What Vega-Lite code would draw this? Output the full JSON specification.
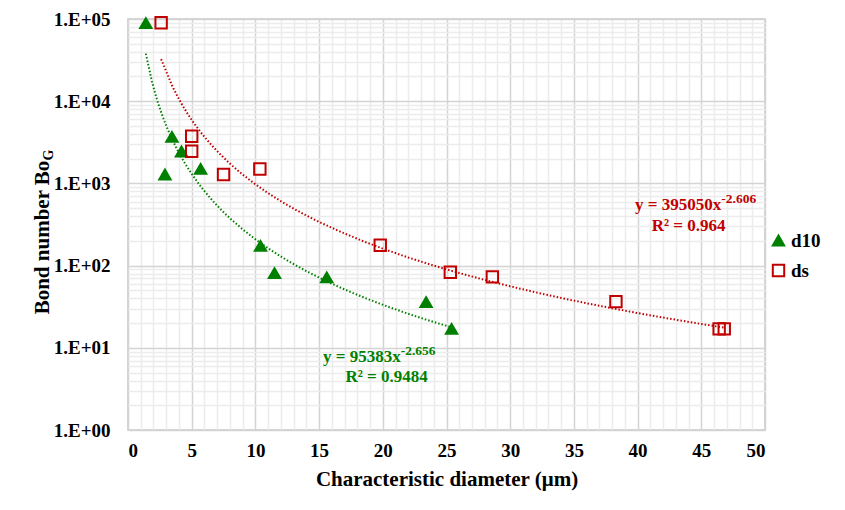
{
  "$schema": "https://vega.github.io/schema/vega-lite/v6.json",
  "width": 637,
  "height": 411,
  "autosize": {"type": "none"},
  "padding": {"left": 128, "top": 19, "right": 80, "bottom": 80},
  "background": "white",
  "datasets": {
    "pts": [
      {"series": "d10", "x": 1.4, "y": 89000},
      {"series": "d10", "x": 2.9, "y": 1285},
      {"series": "d10", "x": 3.45, "y": 3680},
      {"series": "d10", "x": 4.2, "y": 2440},
      {"series": "d10", "x": 5.7, "y": 1500},
      {"series": "d10", "x": 10.4, "y": 174},
      {"series": "d10", "x": 11.5, "y": 81},
      {"series": "d10", "x": 15.6, "y": 72},
      {"series": "d10", "x": 23.4, "y": 36},
      {"series": "d10", "x": 25.4, "y": 17},
      {"series": "ds", "x": 2.6, "y": 90000},
      {"series": "ds", "x": 5.0, "y": 3740},
      {"series": "ds", "x": 5.0, "y": 2460},
      {"series": "ds", "x": 7.5, "y": 1285},
      {"series": "ds", "x": 10.35, "y": 1500},
      {"series": "ds", "x": 19.8, "y": 177},
      {"series": "ds", "x": 25.3, "y": 83},
      {"series": "ds", "x": 28.6, "y": 73},
      {"series": "ds", "x": 38.3, "y": 36.5},
      {"series": "ds", "x": 46.4, "y": 17},
      {"series": "ds", "x": 46.8, "y": 17}
    ],
    "eqs": [
      {"series": "d10", "x": 21.4, "y": 7.8, "main": "y = 95383x", "sup": "-2.656"},
      {"series": "ds", "x": 46.57, "y": 546, "main": "y = 395050x", "sup": "-2.606"}
    ],
    "r2": [
      {"series": "d10", "x": 20.3, "y": 4.45, "t": "R² = 0.9484"},
      {"series": "ds", "x": 44.0, "y": 306, "t": "R² = 0.964"}
    ]
  },
  "resolve": {"axis": {"x": "independent", "y": "independent"}},
  "layer": [
    {
      "data": {"name": "pts"},
      "mark": {"type": "point", "opacity": 0},
      "encoding": {
        "x": {
          "field": "x", "type": "quantitative",
          "scale": {"domain": [0, 50], "nice": false},
          "axis": {
            "orient": "bottom", "grid": true, "gridColor": "#ececec", "gridWidth": 1.5,
            "values": [1,2,3,4,6,7,8,9,11,12,13,14,16,17,18,19,21,22,23,24,26,27,28,29,31,32,33,34,36,37,38,39,41,42,43,44,46,47,48,49],
            "labels": false, "ticks": false, "domain": false, "title": null
          }
        },
        "y": {
          "field": "y", "type": "quantitative",
          "scale": {"type": "log", "domain": [1, 100000], "nice": false},
          "axis": {
            "orient": "left", "grid": true, "gridColor": "#ececec", "gridWidth": 1.5,
            "values": [2,3,4,5,6,7,8,9,20,30,40,50,60,70,80,90,200,300,400,500,600,700,800,900,2000,3000,4000,5000,6000,7000,8000,9000,20000,30000,40000,50000,60000,70000,80000,90000],
            "labels": false, "ticks": false, "domain": false, "title": null
          }
        }
      }
    },
    {
      "data": {"name": "pts"},
      "transform": [
        {"filter": "datum.series === 'd10'"},
        {"regression": "y", "on": "x", "method": "pow"}
      ],
      "mark": {"type": "line", "color": "#008000", "strokeWidth": 2, "strokeDash": [1.5, 2]},
      "encoding": {
        "x": {"field": "x", "type": "quantitative", "scale": {"domain": [0, 50], "nice": false}, "axis": null},
        "y": {"field": "y", "type": "quantitative", "scale": {"type": "log", "domain": [1, 100000], "nice": false}, "axis": null}
      }
    },
    {
      "data": {"name": "pts"},
      "transform": [
        {"filter": "datum.series === 'ds'"},
        {"regression": "y", "on": "x", "method": "pow"}
      ],
      "mark": {"type": "line", "color": "#c00000", "strokeWidth": 2, "strokeDash": [1.5, 2]},
      "encoding": {
        "x": {"field": "x", "type": "quantitative", "scale": {"domain": [0, 50], "nice": false}, "axis": null},
        "y": {"field": "y", "type": "quantitative", "scale": {"type": "log", "domain": [1, 100000], "nice": false}, "axis": null}
      }
    },
    {
      "data": {"name": "pts"},
      "mark": {"type": "point", "size": 130, "strokeWidth": 2, "opacity": 1},
      "encoding": {
        "x": {
          "field": "x", "type": "quantitative",
          "scale": {"domain": [0, 50], "nice": false},
          "axis": {
            "orient": "bottom", "grid": true, "gridColor": "#d4d4d4", "gridWidth": 1.5,
            "values": [0,5,10,15,20,25,30,35,40,45,50],
            "ticks": false, "domain": false,
            "labelFontSize": 19, "labelFontWeight": "bold", "labelColor": "#000000", "labelPadding": 11,
            "title": "Characteristic diameter (μm)",
            "titleFontSize": 21, "titleFontWeight": "bold", "titleColor": "#000000", "titlePadding": 8
          }
        },
        "y": {
          "field": "y", "type": "quantitative",
          "scale": {"type": "log", "domain": [1, 100000], "nice": false},
          "axis": {
            "orient": "left", "grid": true, "gridColor": "#d4d4d4", "gridWidth": 1.5,
            "values": [1, 10, 100, 1000, 10000, 100000],
            "labelExpr": "'1.E+0' + round(log(datum.value) / LN10)",
            "ticks": false, "domain": false,
            "labelFontSize": 19, "labelFontWeight": "bold", "labelColor": "#000000", "labelPadding": 18,
            "title": "Bond number Bo",
            "titleFontSize": 21, "titleFontWeight": "bold", "titleColor": "#000000",
            "titleX": -79.5, "titleY": 218, "titleBaseline": "alphabetic", "titleAlign": "center", "titleAngle": 270
          }
        },
        "shape": {
          "field": "series", "type": "nominal",
          "scale": {"domain": ["d10", "ds"], "range": ["triangle-up", "square"]},
          "legend": {"title": null}
        },
        "fill": {
          "field": "series", "type": "nominal",
          "scale": {"domain": ["d10", "ds"], "range": ["#008000", "transparent"]},
          "legend": {"title": null}
        },
        "stroke": {
          "field": "series", "type": "nominal",
          "scale": {"domain": ["d10", "ds"], "range": ["#008000", "#c00000"]},
          "legend": {"title": null}
        }
      }
    },
    {
      "data": {"name": "eqs"},
      "mark": {"type": "text", "align": "right", "baseline": "middle", "fontSize": 17, "fontWeight": "bold"},
      "encoding": {
        "x": {"field": "x", "type": "quantitative", "scale": {"domain": [0, 50], "nice": false}, "axis": null},
        "y": {"field": "y", "type": "quantitative", "scale": {"type": "log", "domain": [1, 100000], "nice": false}, "axis": null},
        "text": {"field": "main"},
        "color": {"field": "series", "type": "nominal", "scale": {"domain": ["d10", "ds"], "range": ["#008000", "#c00000"]}, "legend": null}
      }
    },
    {
      "data": {"name": "eqs"},
      "mark": {"type": "text", "align": "left", "baseline": "middle", "fontSize": 13.5, "fontWeight": "bold", "dy": -6},
      "encoding": {
        "x": {"field": "x", "type": "quantitative", "scale": {"domain": [0, 50], "nice": false}, "axis": null},
        "y": {"field": "y", "type": "quantitative", "scale": {"type": "log", "domain": [1, 100000], "nice": false}, "axis": null},
        "text": {"field": "sup"},
        "color": {"field": "series", "type": "nominal", "scale": {"domain": ["d10", "ds"], "range": ["#008000", "#c00000"]}, "legend": null}
      }
    },
    {
      "data": {"name": "r2"},
      "mark": {"type": "text", "align": "center", "baseline": "middle", "fontSize": 17, "fontWeight": "bold"},
      "encoding": {
        "x": {"field": "x", "type": "quantitative", "scale": {"domain": [0, 50], "nice": false}, "axis": null},
        "y": {"field": "y", "type": "quantitative", "scale": {"type": "log", "domain": [1, 100000], "nice": false}, "axis": null},
        "text": {"field": "t"},
        "color": {"field": "series", "type": "nominal", "scale": {"domain": ["d10", "ds"], "range": ["#008000", "#c00000"]}, "legend": null}
      }
    },
    {
      "data": {"values": [{"t": "G"}]},
      "mark": {"type": "text", "align": "center", "baseline": "alphabetic", "fontSize": 14, "fontWeight": "bold", "angle": 270, "dy": -75.5, "color": "#000000"},
      "encoding": {
        "x": {"datum": 0, "type": "quantitative", "scale": {"domain": [0, 50], "nice": false}, "axis": null},
        "y": {"datum": 2213, "type": "quantitative", "scale": {"type": "log", "domain": [1, 100000], "nice": false}, "axis": null},
        "text": {"field": "t"}
      }
    }
  ],
  "config": {
    "view": {"stroke": "#c8c8c8", "strokeWidth": 1.5},
    "font": "Liberation Serif",
    "legend": {
      "orient": "none", "legendX": 641, "legendY": 212, "padding": 0,
      "labelFont": "Liberation Serif", "labelFontSize": 19, "labelFontWeight": "bold", "labelColor": "#000000",
      "symbolSize": 130, "symbolStrokeWidth": 2, "symbolOpacity": 1, "rowPadding": 9, "labelOffset": 3
    }
  }
}
